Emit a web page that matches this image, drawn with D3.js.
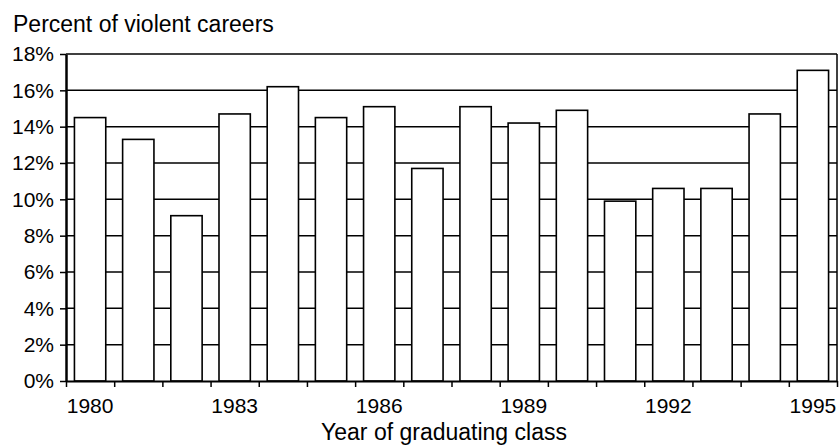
<!DOCTYPE html>
<html>
<head>
<meta charset="utf-8">
<script src="https://d3js.org/d3.v7.min.js"></script>
<style>
    body { margin: 0; background: #fff; }
    svg text { font-family: "Liberation Sans", Arial, sans-serif; fill: #000; }
    .axis path, .axis line { stroke: #000; }
    .grid line { stroke: #000; stroke-width: 1.5px; }
    .bar { fill: #fff; stroke: #000; stroke-width: 1.6px; }
</style>
</head>
<body>
<div id="chart"></div>
<script>
// data
var years = ["1980","1981","1982","1983","1984","1985","1986","1987",
             "1988","1989","1990","1991","1992","1993","1994","1995"];
var percents = [14.5, 13.3, 9.1, 14.7, 16.2, 14.5, 15.1, 11.7,
                15.1, 14.2, 14.9, 9.9, 10.6, 10.6, 14.7, 17.1];
var yTicks = [0, 2, 4, 6, 8, 10, 12, 14, 16, 18];
var xLabels = ["1980","1983","1986","1989","1992","1995"];

var margin = {top: 54, right: 3, bottom: 65, left: 66},
    width = 840 - margin.left - margin.right,
    height = 446 - margin.top - margin.bottom;

var svg = d3.select("#chart").append("svg")
    .attr("width", 840)
    .attr("height", 446);

var g = svg.append("g")
    .attr("transform", "translate(" + margin.left + "," + margin.top + ")");

// scales
var x = d3.scaleBand()
    .domain(years)
    .range([0, width])
    .paddingInner(0.35)
    .paddingOuter(0.175);

var xEdge = d3.scaleLinear()
    .domain([0, years.length])
    .range([0, width]);

var y = d3.scaleLinear()
    .domain([0, 18])
    .range([height, 0]);

// horizontal grid lines (behind the bars)
g.append("g")
    .attr("class", "grid")
    .selectAll("line")
    .data(yTicks.filter(function(d) { return d > 0; }))
    .enter().append("line")
    .attr("x1", 0)
    .attr("x2", width)
    .attr("y1", function(d) { return y(d); })
    .attr("y2", function(d) { return y(d); });

// right frame line
g.append("line")
    .attr("x1", width).attr("x2", width)
    .attr("y1", y(18)).attr("y2", y(0))
    .attr("stroke", "#000")
    .attr("stroke-width", 1.5);

// bars
g.selectAll(".bar")
    .data(percents)
    .enter().append("rect")
    .attr("class", "bar")
    .attr("x", function(d, i) { return x(years[i]); })
    .attr("width", x.bandwidth())
    .attr("y", function(d) { return y(d); })
    .attr("height", function(d) { return y(0) - y(d); });

// x axis: ticks on category edges
g.append("g")
    .attr("class", "axis")
    .attr("transform", "translate(0," + height + ")")
    .call(d3.axisBottom(xEdge).ticks(years.length).tickSize(6).tickSizeOuter(0).tickFormat(""))
    .call(function(a) {
        a.select(".domain").attr("stroke-width", 2);
        a.selectAll("line").attr("stroke-width", 1.5);
    });

// x labels every third year
g.append("g")
    .attr("class", "axis")
    .attr("transform", "translate(0," + height + ")")
    .call(d3.axisBottom(x).tickValues(xLabels).tickSize(0).tickPadding(17))
    .call(function(a) {
        a.select(".domain").remove();
        a.selectAll("text").style("font-size", "21px");
    });

// y axis
g.append("g")
    .attr("class", "axis")
    .call(d3.axisLeft(y).tickValues(yTicks).tickSize(6).tickSizeOuter(0)
        .tickFormat(function(d) { return d + "%"; }))
    .call(function(a) {
        a.select(".domain").attr("stroke-width", 2.5);
        a.selectAll("line").attr("stroke-width", 1.5);
        a.selectAll("text").style("font-size", "21px").attr("x", -12);
    });

// axis titles
svg.append("text")
    .attr("x", 13)
    .attr("y", 32)
    .style("font-size", "23px")
    .text("Percent of violent careers");

svg.append("text")
    .attr("x", 444)
    .attr("y", 440)
    .style("text-anchor", "middle")
    .style("font-size", "23px")
    .text("Year of graduating class");
</script>
</body>
</html>
